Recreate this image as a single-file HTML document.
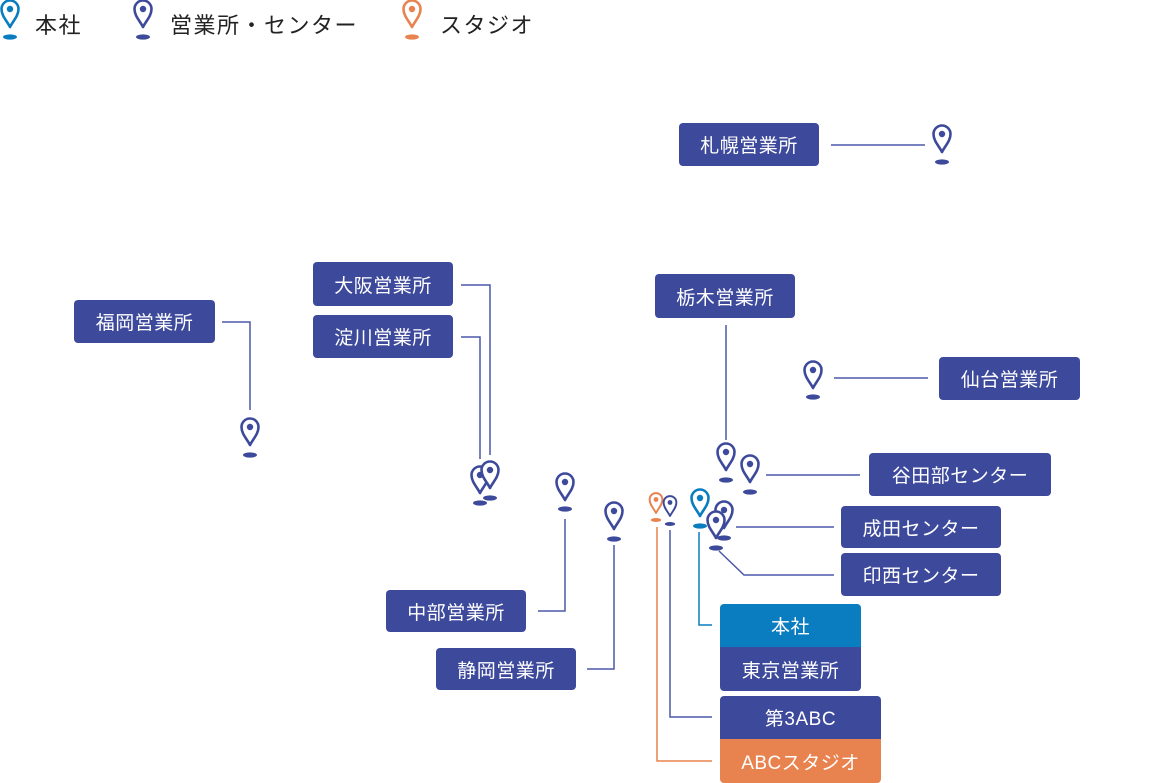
<!DOCTYPE html>
<html><head><meta charset="utf-8"><style>
body{margin:0;width:1162px;height:783px;background:#fff;position:relative;overflow:hidden;font-family:"Liberation Sans","Noto Sans CJK JP",sans-serif}
.b{position:absolute;background:#3d4a9b;color:#fff;font-size:19px;display:flex;align-items:center;justify-content:center;border-radius:4px;letter-spacing:0.5px}
.l{position:absolute;font-size:22px;color:#222;top:8px;letter-spacing:1.5px}
svg{position:absolute;left:0;top:0}
</style></head><body>
<svg width="1162" height="783">
<defs>
<g id="p"><path d="M0,0 C-3,-6 -8.5,-11 -8.5,-18 A8.5,8.5 0 1,1 8.5,-18 C8.5,-11 3,-6 0,0Z" fill="#fff" stroke-width="2.6" stroke-linejoin="round"/></g>
</defs>
<g fill="none" stroke="#4a58a8" stroke-width="1.5">
<polyline points="831,145 925,145"/>
<polyline points="222,322 250,322 250,410"/>
<polyline points="461,285 490,285 490,455"/>
<polyline points="461,337 480,337 480,459"/>
<polyline points="726,325 726,440"/>
<polyline points="834,378 928,378"/>
<polyline points="766,475 860,475"/>
<polyline points="736,527 834,527"/>
<polyline points="719,551 744,575 834,575"/>
<polyline points="538,611 565,611 565,519"/>
<polyline points="587,669 614,669 614,545"/>
<polyline points="670,530 670,717 712,717"/>
</g>
<polyline points="699,532 699,625 712,625" fill="none" stroke="#0a7dc1" stroke-width="1.5"/>
<polyline points="657,527 657,761 712,761" fill="none" stroke="#e8834f" stroke-width="1.5"/>
<g id="pins"></g>
</svg>
<script>
var pins=[[10,27,37,'#0a7dc1',1],[143,27,37,'#3d4a9b',1],[412,27,37,'#e8834f',1],
[942,152,162,'#3d4a9b',1],[250,445,455,'#3d4a9b',1],[480,493,503,'#3d4a9b',1],[490,488,498,'#3d4a9b',1],
[565,500,509,'#3d4a9b',1],[614,529,539,'#3d4a9b',1],[813,388,397,'#3d4a9b',1],[726,470,480,'#3d4a9b',1],
[750,482,492,'#3d4a9b',1],[656,513,520,'#e8834f',0.75],[670,516,524,'#3d4a9b',0.75],[700,516,526,'#0a7dc1',1],
[724,528,538,'#3d4a9b',1],[716,538,548,'#3d4a9b',1]];
var g=document.getElementById('pins'),s='';
pins.forEach(function(p){var c=p[3],k=p[4];
s+='<ellipse cx="'+p[0]+'" cy="'+p[2]+'" rx="'+(7*k)+'" ry="'+(2.6*k)+'" fill="'+c+'"/>';
s+='<g transform="translate('+p[0]+','+p[1]+') scale('+k+')"><use href="#p" stroke="'+c+'"/><circle cx="0" cy="-18" r="3.2" fill="'+c+'"/></g>';});
g.innerHTML=s;
</script>
<div class="l" style="left:35px">本社</div>
<div class="l" style="left:170px">営業所・センター</div>
<div class="l" style="left:440px">スタジオ</div>
<div class="b" style="left:679px;top:123px;width:140px;height:43px">札幌営業所</div>
<div class="b" style="left:74px;top:300px;width:141px;height:43px">福岡営業所</div>
<div class="b" style="left:313px;top:262px;width:140px;height:44px">大阪営業所</div>
<div class="b" style="left:313px;top:315px;width:140px;height:43px">淀川営業所</div>
<div class="b" style="left:655px;top:274px;width:140px;height:44px">栃木営業所</div>
<div class="b" style="left:939px;top:357px;width:141px;height:43px">仙台営業所</div>
<div class="b" style="left:869px;top:453px;width:182px;height:43px">谷田部センター</div>
<div class="b" style="left:841px;top:506px;width:160px;height:42px">成田センター</div>
<div class="b" style="left:841px;top:553px;width:160px;height:43px">印西センター</div>
<div class="b" style="left:386px;top:590px;width:140px;height:42px">中部営業所</div>
<div class="b" style="left:436px;top:648px;width:140px;height:42px">静岡営業所</div>
<div class="b" style="left:720px;top:604px;width:141px;height:43px;background:#0a7dc1;border-radius:4px 4px 0 0">本社</div>
<div class="b" style="left:720px;top:647px;width:141px;height:44px;border-radius:0 0 4px 4px">東京営業所</div>
<div class="b" style="left:720px;top:696px;width:161px;height:43px;border-radius:4px 4px 0 0">第3ABC</div>
<div class="b" style="left:720px;top:739px;width:161px;height:44px;background:#e8834f;border-radius:0 0 4px 4px">ABCスタジオ</div>
</body></html>
